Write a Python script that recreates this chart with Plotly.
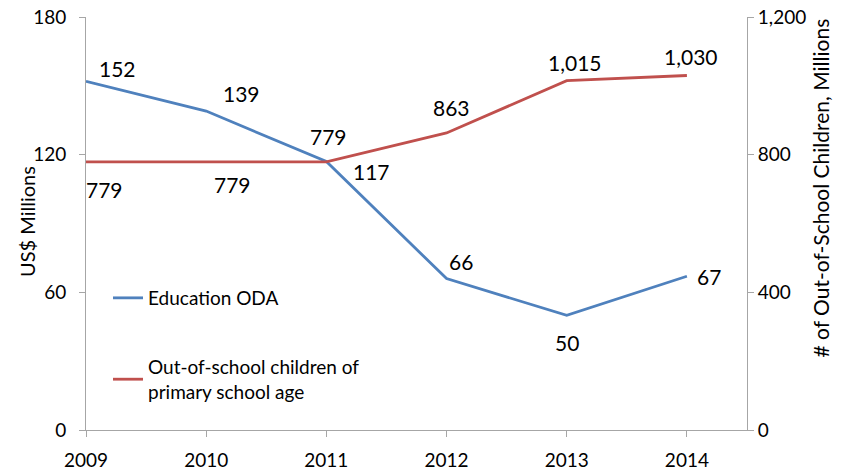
import plotly.graph_objects as go

years = [2009, 2010, 2011, 2012, 2013, 2014]
year_labels = ["2009", "2010", "2011", "2012", "2013", "2014"]
oda = [152, 139, 117, 66, 50, 67]                # US$ millions
out_of_school = [779, 779, 779, 863, 1015, 1030]  # millions of children

BLUE = "#4F81BD"
RED = "#C0504D"
AXIS = "#A6A6A6"
FONT = "Lato, Open Sans, sans-serif"

# label offsets (px) relative to each point: (dx, dy) with dy upwards
oda_off = [(31, 13), (35, 18), (45, -10), (14, 17), (0, -27), (22, 0)]
oos_off = [(18, -28), (26, -23), (2, 25), (5, 25), (8, 18), (4, 19)]

fig = go.Figure()
fig.add_trace(go.Scatter(
    x=years, y=oda, mode="lines", name="Education ODA",
    line=dict(color=BLUE, width=2.8), legend="legend"))
fig.add_trace(go.Scatter(
    x=years, y=out_of_school, mode="lines", yaxis="y2",
    name="Out-of-school children of<br>primary school age",
    line=dict(color=RED, width=2.8), legend="legend2"))

ann = []
for x, v, (dx, dy) in zip(years, oda, oda_off):
    ann.append(dict(x=x, y=v, xref="x", yref="y", text=f"{v:,}", showarrow=False,
                    xshift=dx, yshift=dy, font=dict(size=21, color="#000", family=FONT)))
for x, v, (dx, dy) in zip(years, out_of_school, oos_off):
    ann.append(dict(x=x, y=v, xref="x", yref="y2", text=f"{v:,}", showarrow=False,
                    xshift=dx, yshift=dy, font=dict(size=21, color="#000", family=FONT)))

W, H = 844, 471
L, R, T, B = 86, 97, 17, 41
pw, ph = W - L - R, H - T - B


def px_x(p):
    return (p - L) / pw


def px_y(p):
    return (H - B - p) / ph


# axis titles
ann.append(dict(text="US$ Millions", x=px_x(13), y=px_y(222), xref="paper", yref="paper",
                showarrow=False, textangle=-90, font=dict(size=20, color="#000", family=FONT)))
ann.append(dict(text="# of Out-of-School Children, Millions", x=px_x(834), y=px_y(188),
                xref="paper", yref="paper", showarrow=False, textangle=-90,
                font=dict(size=21, color="#000", family=FONT)))

axis_common = dict(showline=True, linecolor=AXIS, linewidth=1, ticks="outside",
                   ticklen=6, tickcolor=AXIS, showgrid=False, zeroline=False,
                   automargin=False, tickfont=dict(size=19))

fig.update_layout(
    width=W, height=H,
    margin=dict(l=L, r=R, t=T, b=B),
    paper_bgcolor="white", plot_bgcolor="white",
    font=dict(family=FONT, size=19, color="#000"),
    showlegend=True,
    annotations=ann,
    xaxis=dict(range=[2009, 2014.5], tickvals=years, ticktext=year_labels,
               ticklabelstandoff=7, **axis_common),
    yaxis=dict(range=[0, 180], tickvals=[0, 60, 120, 180],
               ticklabelstandoff=9, **axis_common),
    yaxis2=dict(range=[0, 1200], tickvals=[0, 400, 800, 1200],
                ticktext=["0", "400", "800", "1,200"], overlaying="y",
                side="right", **axis_common),
    legend=dict(x=px_x(108), y=px_y(279), xanchor="left", yanchor="top",
                bgcolor="rgba(0,0,0,0)", font=dict(size=19), itemwidth=30),
    legend2=dict(x=px_x(108), y=px_y(348), xanchor="left", yanchor="top",
                 bgcolor="rgba(0,0,0,0)", font=dict(size=19), itemwidth=30),
)

fig.write_html("out.html")
